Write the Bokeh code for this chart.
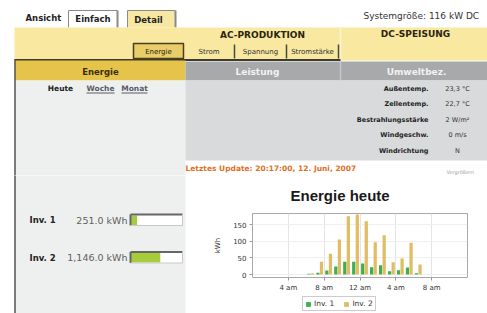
from bokeh.plotting import figure
from bokeh.models import Range1d, FixedTicker, Legend, LegendItem, ColumnDataSource
from bokeh.layouts import column, row
from bokeh.embed import file_html
from bokeh.resources import INLINE
from bokeh.core.properties import value
from bokeh.transform import dodge

# ---------------- data ----------------
hours = [6, 7, 8, 9, 10, 11, 12, 13, 14, 15, 16, 17, 18]
inv1_kwh = [2, 5, 12, 24, 38, 38, 33, 22, 28, 10, 13, 21, 4]
inv2_kwh = [4, 38, 62, 105, 175, 180, 160, 97, 118, 37, 48, 95, 30]
series_names = ["Inv. 1", "Inv. 2"]
x_tick_hours = [4, 8, 12, 16, 20]
x_tick_labels = ["4 am", "8 am", "12 am", "4 am", "8 am"]
y_ticks = [0, 50, 100, 150]
totals_kwh = [251.0, 1146.0]
total_labels = ["251.0 kWh", "1,146.0 kWh"]
progress_max_kwh = 2000.0
env_labels = ["Außentemp.", "Zellentemp.", "Bestrahlungsstärke", "Windgeschw.", "Windrichtung"]
env_values = ["23,3 °C", "22,7 °C", "2 W/m²", "0 m/s", "N"]

GREEN = "#3daf4c"
GOLD = "#e0bc62"
UI_FONT = value("DejaVu Sans")


def canvas(x0, x1, y0, y1):
    f = figure(width=int(x1 - x0), height=int(y1 - y0),
               x_range=Range1d(x0, x1), y_range=Range1d(y1, y0),
               output_backend="svg", toolbar_location=None,
               x_axis_location=None, y_axis_location=None, min_border=0,
               frame_align=False)
    f.grid.visible = False
    f.outline_line_color = None
    f.background_fill_color = "white"
    f.border_fill_color = "white"
    return f


def txt(f, x, y, s, size="7px", bold=False, color="#333333", align="left", font=UI_FONT):
    f.text(x=[x], y=[y], text=[s], text_font=font, text_font_size=size,
           text_font_style="bold" if bold else "normal", text_color=color,
           text_align=align, text_baseline="middle")


def box(f, l, r, t, b, fill, line=None, lw=1):
    f.quad(left=[l], right=[r], top=[t], bottom=[b], fill_color=fill,
           line_color=line, line_width=lw)


def seg(f, x0, y0, x1, y1, color, lw=1):
    f.segment(x0=[x0], y0=[y0], x1=[x1], y1=[y1], line_color=color, line_width=lw)


# ---------------- top chrome ----------------
top = canvas(0, 487, 0, 175)
# tabs
txt(top, 25, 17, "Ansicht", "8.5px", True, "#222222")
box(top, 68, 117, 10, 27, "white")
seg(top, 68, 27, 68, 10, "#8a8a8a"); seg(top, 68, 10, 117, 10, "#8a8a8a"); seg(top, 117, 10, 117, 27, "#8a8a8a", 2)
txt(top, 92.5, 18, "Einfach", "8.5px", True, "#222222", "center")
box(top, 127, 175, 10, 27, "#f7e7a2")
seg(top, 127, 27, 127, 10, "#8a8a8a"); seg(top, 127, 10, 175, 10, "#8a8a8a"); seg(top, 175, 10, 175, 27, "#8a8a8a", 2)
txt(top, 148, 19, "Detail", "8.5px", True, "#222222", "center")
txt(top, 363, 15, "Systemgröße: 116 kW DC", "9px", False, "#333333")
# yellow band
box(top, 14, 490, 27, 60, "#f8e8a0")
seg(top, 340, 27, 340, 60, "#fcf4d2", 1.5)
txt(top, 262, 34, "AC-PRODUKTION", "9px", True, "#2a2410", "center")
txt(top, 415, 33, "DC-SPEISUNG", "9px", True, "#2a2410", "center")
box(top, 133, 183, 43, 58, "#e8cd6a", "#4a3e1c", 1.5)
txt(top, 158, 51, "Energie", "7px", False, "#2a2410", "center")
for xd in (234, 286, 338):
    seg(top, xd, 44, xd, 58, "#4a4a44", 1.5)
txt(top, 208.5, 51, "Strom", "7px", False, "#333333", "center")
txt(top, 260, 51, "Spannung", "7px", False, "#333333", "center")
txt(top, 312, 51, "Stromstärke", "7px", False, "#333333", "center")
seg(top, 14, 59.5, 340, 59.5, "#3d3a2e", 2)
# header row
box(top, 14, 185, 60, 80, "#e6c34a")
box(top, 185, 490, 61, 80, "#a8a9ab")
seg(top, 340, 61, 340, 80, "#c6c7c9", 1.5)
txt(top, 100, 71, "Energie", "8.5px", True, "#3a2e00", "center")
txt(top, 257, 71.5, "Leistung", "9px", True, "#f2f2f2", "center")
txt(top, 416, 71.5, "Umweltbez.", "9px", True, "#f2f2f2", "center")
# left panel
box(top, 14, 185, 80, 180, "#eef0ef")
seg(top, 14.5, 59, 14.5, 180, "#555555", 1.5)
txt(top, 60, 88, "Heute", "7.5px", True, "#222222", "center")
txt(top, 100, 88, "Woche", "7.5px", True, "#5a5a66", "center")
seg(top, 86, 92.5, 114, 92.5, "#5a5a66", 1)
txt(top, 134, 88, "Monat", "7.5px", True, "#5a5a66", "center")
seg(top, 121, 92.5, 147, 92.5, "#5a5a66", 1)
# grey data area
box(top, 185, 490, 80, 160, "#d9dadc")
env_y = [88, 103.5, 119, 134.5, 150]
for lab, val, yy in zip(env_labels, env_values, env_y):
    txt(top, 428, yy, lab, "6.5px", True, "#1e1e1e", "right")
    txt(top, 457, yy, val, "6.5px", False, "#333333", "center")
txt(top, 185, 168, "Letztes Update: 20:17:00, 12. Juni, 2007", "7.5px", True, "#e0701e")
txt(top, 446, 171.5, "Vergrößern", "5px", False, "#a0a0a0")

# ---------------- left panel with totals ----------------
left = canvas(0, 190, 175, 313)
box(left, 14, 185, 170, 320, "#eef0ef")
seg(left, 14.5, 170, 14.5, 320, "#555555", 1.5)
bar_l, bar_w = 130, 52
for name, lab, tot, yy in zip(series_names, total_labels, totals_kwh, [219.5, 257]):
    txt(left, 29, yy, name, "8.5px", True, "#222222")
    txt(left, 127, yy, lab, "9.5px", False, "#606060", "right")
    box(left, bar_l, bar_l + bar_w, yy - 5.5, yy + 5.5, "white")
    box(left, bar_l, bar_l + bar_w * tot / progress_max_kwh, yy - 4.5, yy + 5, "#a6cc3c")
    seg(left, bar_l, yy - 5.5, bar_l + bar_w, yy - 5.5, "#666666", 2)
    seg(left, bar_l, yy - 5.5, bar_l, yy + 5.5, "#666666", 2)
    seg(left, bar_l + bar_w, yy - 5.5, bar_l + bar_w, yy + 5.5, "#c8c8c8", 1)
    seg(left, bar_l, yy + 5.5, bar_l + bar_w, yy + 5.5, "#c8c8c8", 1)

# ---------------- chart ----------------
src = ColumnDataSource(dict(x=[h + 0.5 for h in hours], inv1=inv1_kwh, inv2=inv2_kwh))
chart = figure(width=297, height=121, x_range=Range1d(0, 24), y_range=Range1d(-9, 183),
               title="Energie heute",
               output_backend="svg", toolbar_location=None, frame_align=False,
               min_border_left=62, min_border_right=20, min_border_top=37, min_border_bottom=19)
chart.background_fill_color = "white"
chart.border_fill_color = "white"
chart.outline_line_color = "#a8a8a8"
chart.title.align = "left"
chart.title.offset = 38
chart.title.standoff = 19
chart.title.text_font = "Liberation Sans"
chart.title.text_font_size = "15px"
chart.title.text_font_style = "bold"
chart.title.text_color = "#1a1a1a"

r1 = chart.vbar(x=dodge("x", -0.2), top="inv1", width=0.36, bottom=0, source=src,
                fill_color=GREEN, line_color=None)
r2 = chart.vbar(x=dodge("x", 0.2), top="inv2", width=0.36, bottom=0, source=src,
                fill_color=GOLD, line_color=None)
chart.xaxis.ticker = FixedTicker(ticks=x_tick_hours)
chart.xaxis.major_label_overrides = {h: l for h, l in zip(x_tick_hours, x_tick_labels)}
chart.yaxis.ticker = FixedTicker(ticks=y_ticks)
for ax in (chart.xaxis[0], chart.yaxis[0]):
    ax.axis_line_color = None
    ax.major_tick_line_color = "#999999"
    ax.major_tick_out = 3
    ax.major_tick_in = 0
    ax.minor_tick_line_color = None
    ax.major_label_text_font = "DejaVu Sans"
    ax.major_label_text_font_size = "7px"
    ax.major_label_text_color = "#333333"
    ax.major_label_standoff = 3
chart.yaxis.axis_label = "kWh"
chart.yaxis.axis_label_text_font = "DejaVu Sans"
chart.yaxis.axis_label_text_font_size = "7px"
chart.yaxis.axis_label_text_font_style = "normal"
chart.yaxis.axis_label_text_color = "#333333"
chart.yaxis.axis_label_standoff = 8
chart.xgrid.grid_line_color = "#e4e4e4"
chart.ygrid.grid_line_color = "#efefef"

# ---------------- legend strip under the chart ----------------
leg_fig = canvas(190, 487, 296, 313)
# zero-height swatch carriers, one per series, so the legend can show the series colours
k1 = leg_fig.vbar(x=[190], top=[296], bottom=[296], width=0.0, fill_color=GREEN, line_color=None)
k2 = leg_fig.vbar(x=[190], top=[296], bottom=[296], width=0.0, fill_color=GOLD, line_color=None)
legend = Legend(items=[LegendItem(label=series_names[0], renderers=[k1]),
                       LegendItem(label=series_names[1], renderers=[k2])],
                orientation="horizontal", location=(112, 2))
legend.label_text_font = "DejaVu Sans"
legend.label_text_font_size = "7.5px"
legend.label_text_color = "#333333"
legend.glyph_width = 6
legend.glyph_height = 6
legend.label_height = 8
legend.label_standoff = 3
legend.spacing = 9
legend.padding = 2
legend.margin = 0
legend.border_line_color = "#999999"
legend.background_fill_alpha = 1
leg_fig.add_layout(legend)

layout = column(top, row(left, column(chart, leg_fig)))
open("out.html", "w").write(file_html(layout, INLINE))
